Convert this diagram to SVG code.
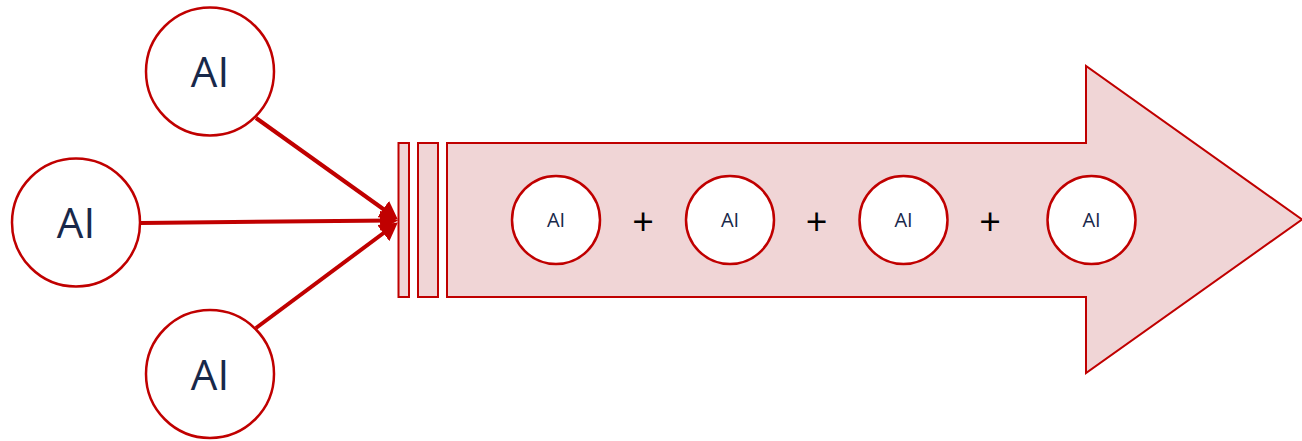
<svg xmlns="http://www.w3.org/2000/svg" width="1302" height="441" viewBox="0 0 1302 441">
<style>
.big{fill:#fff;stroke:#c00000;stroke-width:2.5}
.sm{fill:#fff;stroke:#c00000;stroke-width:2.5}
.bar{fill:#f0d5d6;stroke:#c00000;stroke-width:2}
.t{font-family:"Open Sans","Liberation Sans",sans-serif;fill:#18284a;text-anchor:middle}
.tb{font-size:42px}
.ts{font-size:20px}
.plus{font-family:"Open Sans","Liberation Sans",sans-serif;font-size:38px;font-weight:500;fill:#000;text-anchor:middle}
.conn{stroke:#c00000;stroke-width:4;fill:none}
</style>
<defs>
<marker id="ah" markerWidth="4.5" markerHeight="5" refX="3" refY="2.5" orient="auto" markerUnits="strokeWidth">
<path d="M0,0 L4.5,2.5 L0,5 z" fill="#c00000"/>
</marker>
</defs>
<g id="flow">
<rect class="bar" x="398.5" y="143" width="10.5" height="154"/>
<rect class="bar" x="418" y="143" width="20" height="154"/>
<path class="bar" d="M447,143 L1086,143 L1086,66 L1302,219.5 L1086,373 L1086,297 L447,297 Z"/>
</g>
<g id="connectors">
<line class="conn" x1="256" y1="118" x2="393" y2="216" marker-end="url(#ah)"/>
<line class="conn" x1="141" y1="223" x2="392" y2="220.5" marker-end="url(#ah)"/>
<line class="conn" x1="256" y1="328" x2="393" y2="226" marker-end="url(#ah)"/>
</g>
<g id="ai-top"><circle class="big" cx="210" cy="71.5" r="64"/><text class="t tb" x="210" y="87">AI</text></g>
<g id="ai-left"><circle class="big" cx="76" cy="222.5" r="64"/><text class="t tb" x="76" y="238">AI</text></g>
<g id="ai-bottom"><circle class="big" cx="210" cy="374" r="64"/><text class="t tb" x="210" y="390">AI</text></g>
<g id="ai-1"><circle class="sm" cx="556" cy="220" r="44"/><text class="t ts" x="556" y="227">AI</text></g>
<g id="ai-2"><circle class="sm" cx="730" cy="220" r="44"/><text class="t ts" x="730" y="227">AI</text></g>
<g id="ai-3"><circle class="sm" cx="903.5" cy="220" r="44"/><text class="t ts" x="903.5" y="227">AI</text></g>
<g id="ai-4"><circle class="sm" cx="1091.5" cy="220" r="44"/><text class="t ts" x="1091.5" y="227">AI</text></g>
<g id="plus-signs">
<text class="plus" x="643" y="235">+</text>
<text class="plus" x="816.5" y="235">+</text>
<text class="plus" x="990" y="235">+</text>
</g>
</svg>
